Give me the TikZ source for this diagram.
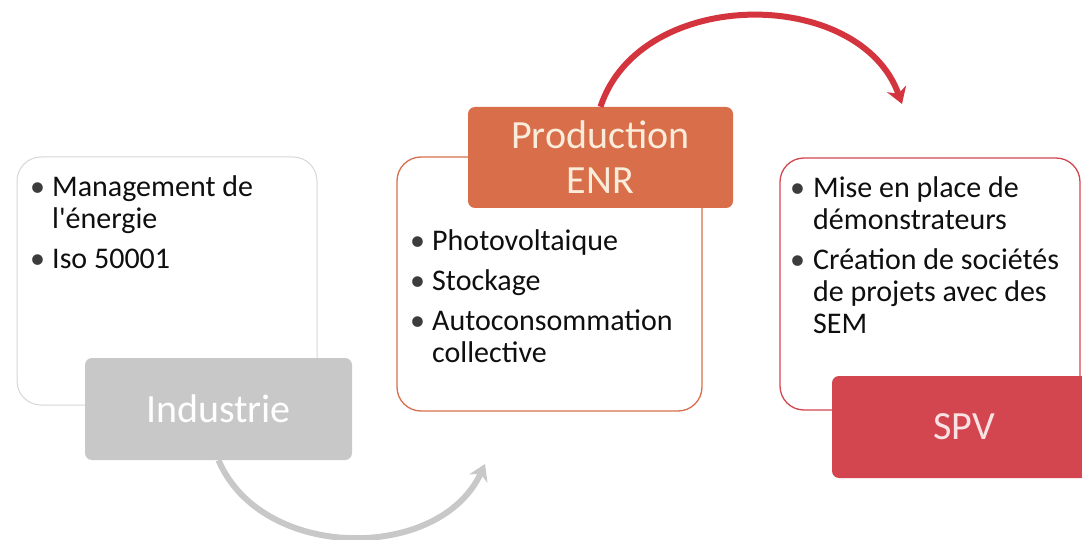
\documentclass[tikz,border=0pt]{standalone}
\usepackage{fontspec}
\setmainfont{Carlito}[Ligatures=TeXOff]
\usetikzlibrary{arrows.meta}
\definecolor{grayfill}{RGB}{200,200,200}
\definecolor{grayline}{RGB}{215,215,215}
\definecolor{orangefill}{RGB}{216,110,74}
\definecolor{redfill}{RGB}{211,70,80}
\definecolor{redarrow}{RGB}{212,52,62}
\definecolor{bulletgray}{RGB}{60,60,60}
\definecolor{txt}{RGB}{15,15,15}
\newcommand{\bul}{\textcolor{bulletgray}{\textbullet}}
\begin{document}
\begin{tikzpicture}[x=1pt,y=-1pt,
  panel/.style={draw, line width=1.3pt, rounded corners=24pt, fill=white, inner sep=0pt},
  labelbox/.style={rounded corners=7pt, inner sep=0pt, align=center,
    font=\fontsize{40}{45}\selectfont},
  listtext/.style={anchor=north west, inner sep=0pt, text=txt,
    font=\fontsize{30}{32}\selectfont},
  cyclearrow/.style={line width=6pt, -{Stealth[length=16pt,width=20pt]}}
]
\useasboundingbox (0,0) rectangle (1082,540);

% white panels
\node[panel, draw=grayline, line width=1pt, minimum width=300pt, minimum height=248pt] (p1) at (167,281) {};
\node[panel, draw=orangefill, minimum width=305pt, minimum height=254pt] (p2) at (549.5,284) {};
\node[panel, draw=redfill, minimum width=300pt, minimum height=252pt] (p3) at (930,284) {};

% list texts
\node[listtext] (t1) at (30,173.6) {\begin{tabular}{@{}p{22pt}@{}l@{}}
\bul & Management de\\
 & l'énergie\\[8pt]
\bul & Iso 50001
\end{tabular}};
\node[listtext] (t2) at (410,227.6) {\begin{tabular}{@{}p{22pt}@{}l@{}}
\bul & Photovoltaique\\[8pt]
\bul & Stockage\\[8pt]
\bul & Autoconsommation\\
 & collective
\end{tabular}};
\node[listtext] (t3) at (790,174.6) {\begin{tabular}{@{}p{23pt}@{}l@{}}
\bul & Mise en place de\\
 & démonstrateurs\\[8pt]
\bul & Création de sociétés\\
 & de projets avec des\\
 & SEM
\end{tabular}};

% label boxes
\node[labelbox, fill=grayfill, text=white, minimum width=267pt, minimum height=102pt] (ind) at (218.5,409) {Industrie};
\node[labelbox, fill=orangefill, text={rgb,255:red,250;green,236;blue,218}, minimum width=265pt, minimum height=101pt] (enr) at (600.5,157.5) {Production\\ENR};
\node[labelbox, fill=redfill, text={rgb,255:red,250;green,226;blue,226}, minimum width=264pt, minimum height=102pt] (spv) at (964,427) {SPV};

% arrows
\coordinate (gend) at (485,464);
\coordinate (rend) at (902,104);
\draw[cyclearrow, draw=grayfill] (ind.south) .. controls (262,562) and (440,562) .. (gend);
\draw[cyclearrow, draw=redarrow] (enr.north) .. controls (640,-14) and (860,-14) .. (rend);
\end{tikzpicture}
\end{document}
